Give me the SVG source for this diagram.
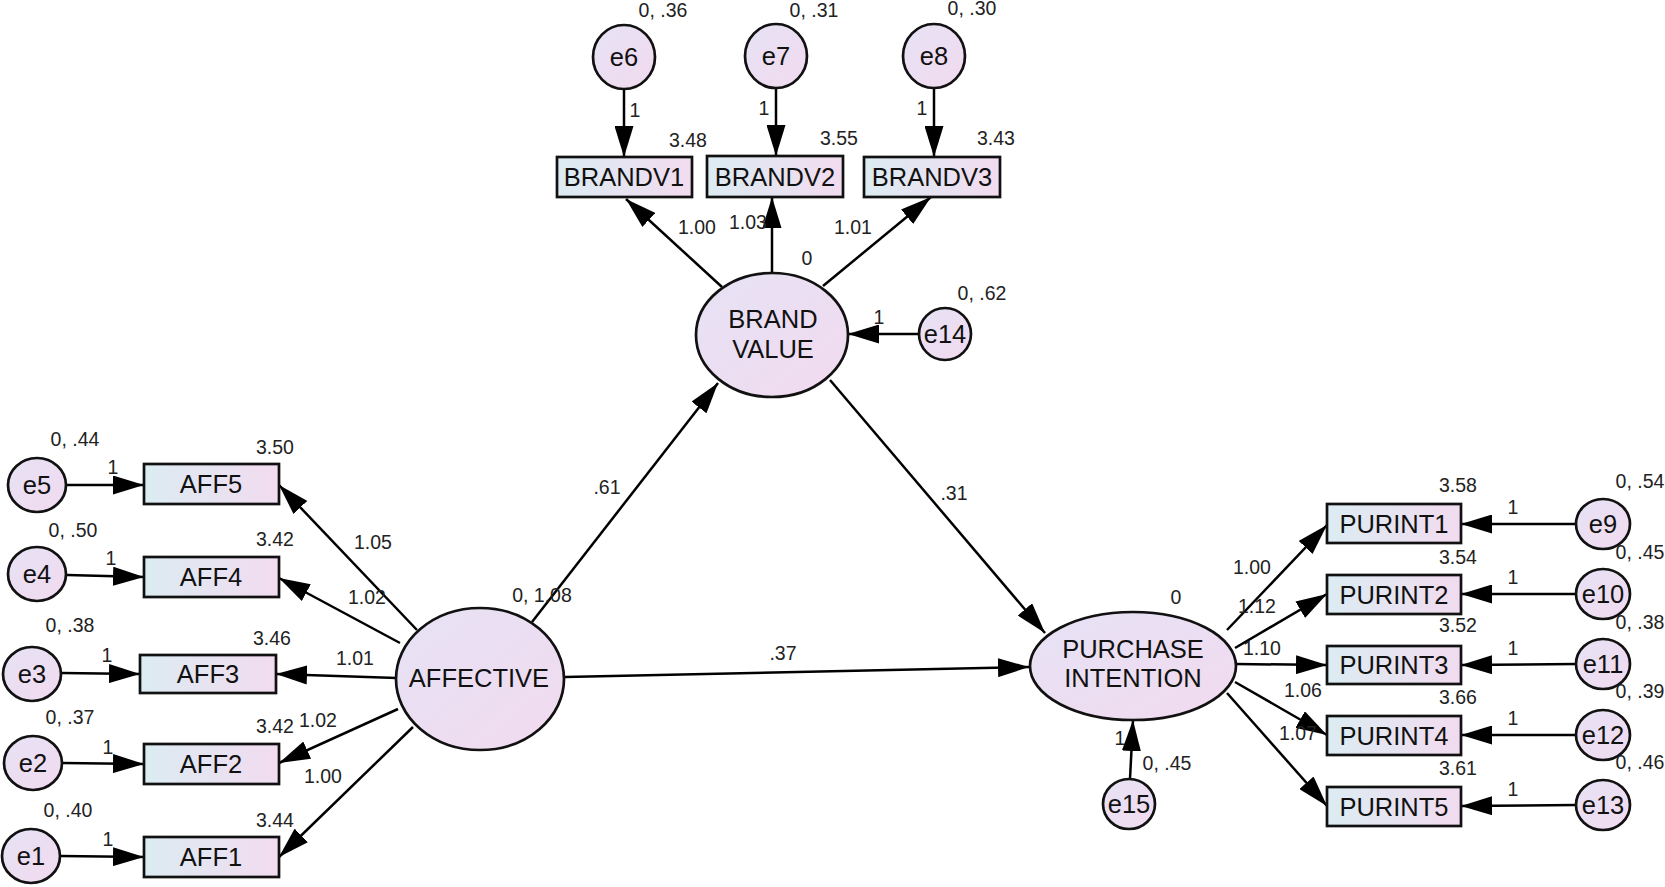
<svg xmlns="http://www.w3.org/2000/svg" width="1665" height="887" viewBox="0 0 1665 887">
<defs>
<linearGradient id="rg" x1="0" y1="0" x2="1" y2="0">
<stop offset="0" stop-color="#dcecf3"/>
<stop offset="1" stop-color="#f2dbef"/>
</linearGradient>
<linearGradient id="eg" x1="0" y1="0" x2="1" y2="1">
<stop offset="0" stop-color="#e6e2f5"/>
<stop offset="1" stop-color="#f2daef"/>
</linearGradient>
<marker id="ah" markerUnits="userSpaceOnUse" markerWidth="32" markerHeight="19" refX="31" refY="9.5" orient="auto">
<path d="M0,0 L31,9.5 L0,19 Z" fill="#000"/>
</marker>
</defs>
<style>
.box{fill:url(#rg);stroke:#111;stroke-width:2.7}
.lat{fill:url(#eg);stroke:#111;stroke-width:2.7}
.nl{font-family:"Liberation Sans",Arial,sans-serif;font-size:25.5px;fill:#111;text-anchor:middle}
.num{font-family:"Liberation Sans",Arial,sans-serif;font-size:19.5px;fill:#222;text-anchor:middle}
.c line{stroke:#000;stroke-width:2.5;marker-end:url(#ah)}
</style>

<g id="connectors" class="c">
<line x1="67" y1="485" x2="144" y2="485"/>
<line x1="67" y1="575" x2="144" y2="577"/>
<line x1="62" y1="673" x2="140" y2="674"/>
<line x1="63" y1="763" x2="144" y2="764"/>
<line x1="61" y1="856" x2="144" y2="857"/>
<line x1="417" y1="630" x2="279" y2="485"/>
<line x1="400" y1="643" x2="279" y2="578"/>
<line x1="397" y1="678" x2="276" y2="674"/>
<line x1="398" y1="709" x2="279" y2="763"/>
<line x1="413" y1="727" x2="279" y2="857"/>
<line x1="532" y1="622" x2="718" y2="383"/>
<line x1="565" y1="677" x2="1029" y2="667"/>
<line x1="830" y1="380" x2="1045" y2="633"/>
<line x1="919" y1="334" x2="848" y2="334"/>
<line x1="722" y1="287" x2="626" y2="199"/>
<line x1="772" y1="273" x2="772" y2="197"/>
<line x1="823" y1="286" x2="931" y2="197"/>
<line x1="624" y1="89" x2="624" y2="157"/>
<line x1="776" y1="88" x2="776" y2="156"/>
<line x1="934" y1="88" x2="934" y2="157"/>
<line x1="1130" y1="779" x2="1133" y2="720"/>
<line x1="1227" y1="630" x2="1327" y2="525"/>
<line x1="1235" y1="648" x2="1327" y2="594"/>
<line x1="1236" y1="664" x2="1327" y2="665"/>
<line x1="1235" y1="682" x2="1327" y2="735"/>
<line x1="1227" y1="693" x2="1327" y2="806"/>
<line x1="1576" y1="524" x2="1461" y2="524"/>
<line x1="1576" y1="594" x2="1461" y2="594"/>
<line x1="1576" y1="664" x2="1461" y2="665"/>
<line x1="1576" y1="735" x2="1461" y2="735"/>
<line x1="1576" y1="805" x2="1461" y2="806"/>
</g>

<g id="e5"><ellipse class="lat" cx="37" cy="485" rx="29" ry="27"/><text class="nl" x="37" y="494">e5</text></g>
<g id="e4"><ellipse class="lat" cx="37" cy="574" rx="29" ry="27"/><text class="nl" x="37" y="583">e4</text></g>
<g id="e3"><ellipse class="lat" cx="32" cy="674" rx="29" ry="27"/><text class="nl" x="32" y="683">e3</text></g>
<g id="e2"><ellipse class="lat" cx="33" cy="763" rx="29" ry="27"/><text class="nl" x="33" y="772">e2</text></g>
<g id="e1"><ellipse class="lat" cx="31" cy="856" rx="29" ry="27"/><text class="nl" x="31" y="865">e1</text></g>

<g id="AFF5"><rect class="box" x="144" y="464" width="135" height="40"/><text class="nl" x="211" y="493">AFF5</text></g>
<g id="AFF4"><rect class="box" x="144" y="557" width="135" height="40"/><text class="nl" x="211" y="586">AFF4</text></g>
<g id="AFF3"><rect class="box" x="140" y="655" width="136" height="38"/><text class="nl" x="208" y="683">AFF3</text></g>
<g id="AFF2"><rect class="box" x="144" y="744" width="135" height="40"/><text class="nl" x="211" y="773">AFF2</text></g>
<g id="AFF1"><rect class="box" x="144" y="837" width="135" height="40"/><text class="nl" x="211" y="866">AFF1</text></g>

<g id="AFFECTIVE"><ellipse class="lat" cx="480" cy="679" rx="84" ry="71"/><text class="nl" x="479" y="687">AFFECTIVE</text></g>

<g id="BRANDVALUE"><ellipse class="lat" cx="772" cy="335" rx="76" ry="62"/><text class="nl" x="773" y="328">BRAND</text><text class="nl" x="773" y="358">VALUE</text></g>
<g id="e14"><ellipse class="lat" cx="945" cy="334" rx="26" ry="26"/><text class="nl" x="945" y="343">e14</text></g>

<g id="BRANDV1"><rect class="box" x="557" y="157" width="135" height="40"/><text class="nl" x="624" y="186">BRANDV1</text></g>
<g id="BRANDV2"><rect class="box" x="707" y="156" width="136" height="41"/><text class="nl" x="775" y="186">BRANDV2</text></g>
<g id="BRANDV3"><rect class="box" x="864" y="157" width="136" height="40"/><text class="nl" x="932" y="186">BRANDV3</text></g>

<g id="e6"><ellipse class="lat" cx="624" cy="57" rx="31" ry="32"/><text class="nl" x="624" y="66">e6</text></g>
<g id="e7"><ellipse class="lat" cx="776" cy="56" rx="31" ry="32"/><text class="nl" x="776" y="65">e7</text></g>
<g id="e8"><ellipse class="lat" cx="934" cy="56" rx="31" ry="32"/><text class="nl" x="934" y="65">e8</text></g>

<g id="PURCHASEINTENTION"><ellipse class="lat" cx="1133" cy="666" rx="103" ry="54"/><text class="nl" x="1133" y="658">PURCHASE</text><text class="nl" x="1133" y="687">INTENTION</text></g>
<g id="e15"><ellipse class="lat" cx="1129" cy="804" rx="26" ry="25"/><text class="nl" x="1129" y="813">e15</text></g>

<g id="PURINT1"><rect class="box" x="1327" y="504" width="134" height="39"/><text class="nl" x="1394" y="533">PURINT1</text></g>
<g id="PURINT2"><rect class="box" x="1327" y="575" width="134" height="39"/><text class="nl" x="1394" y="604">PURINT2</text></g>
<g id="PURINT3"><rect class="box" x="1327" y="646" width="134" height="38"/><text class="nl" x="1394" y="674">PURINT3</text></g>
<g id="PURINT4"><rect class="box" x="1327" y="716" width="134" height="39"/><text class="nl" x="1394" y="745">PURINT4</text></g>
<g id="PURINT5"><rect class="box" x="1327" y="787" width="134" height="39"/><text class="nl" x="1394" y="816">PURINT5</text></g>

<g id="e9"><ellipse class="lat" cx="1603" cy="524" rx="27" ry="25"/><text class="nl" x="1603" y="533">e9</text></g>
<g id="e10"><ellipse class="lat" cx="1603" cy="594" rx="27" ry="25"/><text class="nl" x="1603" y="603">e10</text></g>
<g id="e11"><ellipse class="lat" cx="1603" cy="664" rx="27" ry="25"/><text class="nl" x="1603" y="673">e11</text></g>
<g id="e12"><ellipse class="lat" cx="1603" cy="735" rx="27" ry="25"/><text class="nl" x="1603" y="744">e12</text></g>
<g id="e13"><ellipse class="lat" cx="1603" cy="805" rx="27" ry="25"/><text class="nl" x="1603" y="814">e13</text></g>

<g id="labels">
<text class="num" x="75" y="446">0, .44</text>
<text class="num" x="275" y="454">3.50</text>
<text class="num" x="113" y="474">1</text>
<text class="num" x="73" y="537">0, .50</text>
<text class="num" x="275" y="546">3.42</text>
<text class="num" x="111" y="565">1</text>
<text class="num" x="70" y="632">0, .38</text>
<text class="num" x="272" y="645">3.46</text>
<text class="num" x="107" y="662">1</text>
<text class="num" x="355" y="665">1.01</text>
<text class="num" x="373" y="549">1.05</text>
<text class="num" x="367" y="604">1.02</text>
<text class="num" x="70" y="724">0, .37</text>
<text class="num" x="275" y="733">3.42</text>
<text class="num" x="318" y="727">1.02</text>
<text class="num" x="108" y="754">1</text>
<text class="num" x="323" y="783">1.00</text>
<text class="num" x="68" y="817">0, .40</text>
<text class="num" x="275" y="827">3.44</text>
<text class="num" x="108" y="846">1</text>
<text class="num" x="542" y="602">0, 1.08</text>
<text class="num" x="607" y="494">.61</text>
<text class="num" x="783" y="660">.37</text>
<text class="num" x="807" y="265">0</text>
<text class="num" x="982" y="300">0, .62</text>
<text class="num" x="879" y="324">1</text>
<text class="num" x="954" y="500">.31</text>
<text class="num" x="1176" y="604">0</text>
<text class="num" x="663" y="17">0, .36</text>
<text class="num" x="814" y="17">0, .31</text>
<text class="num" x="972" y="15">0, .30</text>
<text class="num" x="635" y="117">1</text>
<text class="num" x="764" y="115">1</text>
<text class="num" x="922" y="115">1</text>
<text class="num" x="688" y="147">3.48</text>
<text class="num" x="839" y="145">3.55</text>
<text class="num" x="996" y="145">3.43</text>
<text class="num" x="697" y="234">1.00</text>
<text class="num" x="748" y="229">1.03</text>
<text class="num" x="853" y="234">1.01</text>
<text class="num" x="1120" y="745">1</text>
<text class="num" x="1167" y="770">0, .45</text>
<text class="num" x="1252" y="574">1.00</text>
<text class="num" x="1257" y="613">1.12</text>
<text class="num" x="1262" y="655">1.10</text>
<text class="num" x="1303" y="697">1.06</text>
<text class="num" x="1298" y="740">1.07</text>
<text class="num" x="1458" y="492">3.58</text>
<text class="num" x="1640" y="488">0, .54</text>
<text class="num" x="1513" y="514">1</text>
<text class="num" x="1458" y="564">3.54</text>
<text class="num" x="1640" y="559">0, .45</text>
<text class="num" x="1513" y="584">1</text>
<text class="num" x="1458" y="632">3.52</text>
<text class="num" x="1640" y="629">0, .38</text>
<text class="num" x="1513" y="655">1</text>
<text class="num" x="1458" y="704">3.66</text>
<text class="num" x="1640" y="698">0, .39</text>
<text class="num" x="1513" y="725">1</text>
<text class="num" x="1458" y="775">3.61</text>
<text class="num" x="1640" y="769">0, .46</text>
<text class="num" x="1513" y="796">1</text>
</g>
</svg>
